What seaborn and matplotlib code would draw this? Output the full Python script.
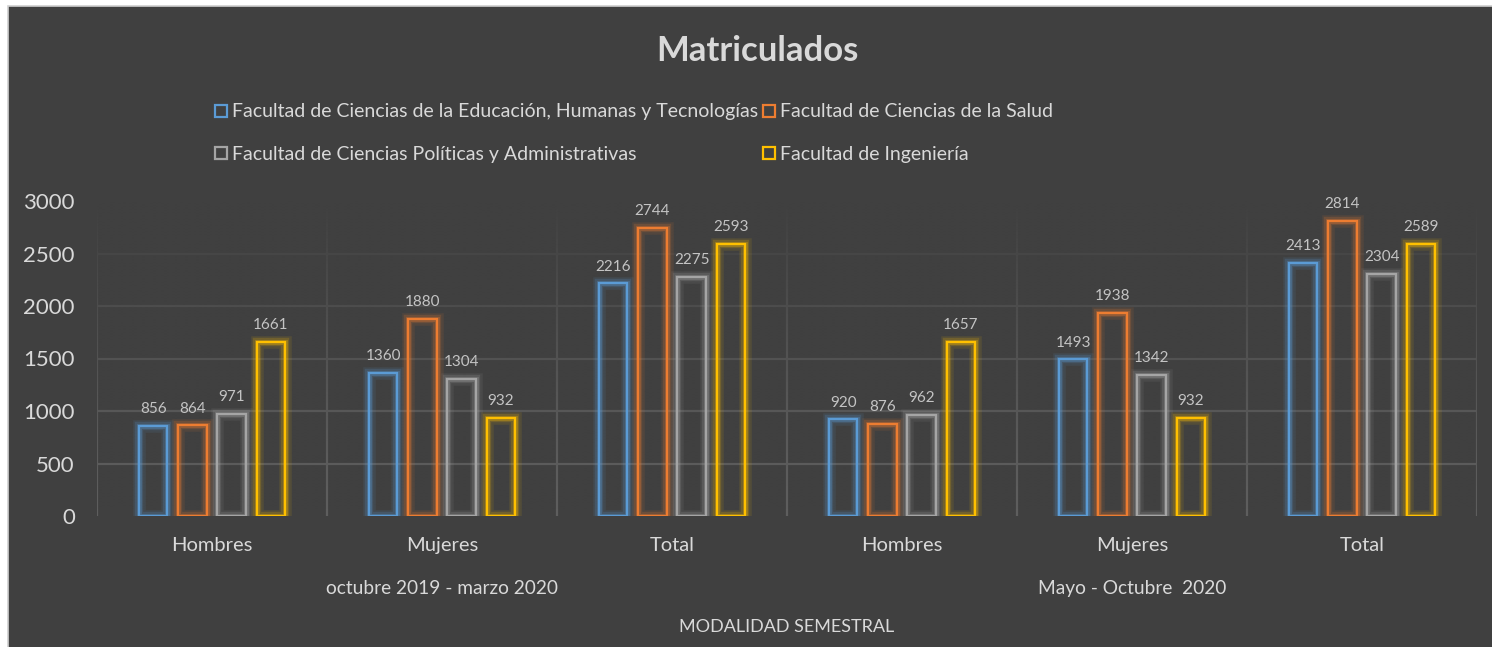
import numpy as np
import pandas as pd
import matplotlib
matplotlib.use("Agg")
import matplotlib.pyplot as plt
import matplotlib.patheffects as pe
from matplotlib.lines import Line2D
from matplotlib.patches import Rectangle
import seaborn as sns

# data
facultades = [
    "Facultad de Ciencias de la Educación, Humanas y Tecnologías",
    "Facultad de Ciencias de la Salud",
    "Facultad de Ciencias Políticas y Administrativas",
    "Facultad de Ingeniería",
]
categorias = ["Hombres", "Mujeres", "Total", "Hombres", "Mujeres", "Total"]
periodos = ["octubre 2019 - marzo 2020", "Mayo - Octubre  2020"]
educacion = [856, 1360, 2216, 920, 1493, 2413]
salud = [864, 1880, 2744, 876, 1938, 2814]
politicas = [971, 1304, 2275, 962, 1342, 2304]
ingenieria = [1661, 932, 2593, 1657, 932, 2589]
colores = ["#5b9bd5", "#ed7d31", "#a5a5a5", "#ffc000"]

series = [educacion, salud, politicas, ingenieria]
grupos = [f"g{i}" for i in range(len(categorias))]
rows = []
for fac, vals in zip(facultades, series):
    for g, v in zip(grupos, vals):
        rows.append({"grupo": g, "facultad": fac, "valor": v})
df = pd.DataFrame(rows)

bg = "#404040"
txt = "#d9d9d9"
sns.set_style("dark")
plt.rcParams["font.family"] = ["Lato", "DejaVu Sans"]

fig = plt.figure(figsize=(14.92, 6.47), dpi=100)
fig.patch.set_facecolor("white")
fig.add_artist(Rectangle((8 / 1492, -0.05), 1.1, 1.05 - 6 / 647, transform=fig.transFigure,
                         facecolor=bg, edgecolor="#d0d0d0", linewidth=1.2, zorder=-10))

ax = fig.add_axes([97 / 1492, 1 - 516 / 647, 1380 / 1492, 315 / 647])
ax.set_facecolor(bg)

sns.barplot(data=df, x="grupo", y="valor", hue="facultad", order=grupos,
            hue_order=facultades, palette=colores, fill=False, width=0.68, gap=0.28,
            linewidth=1.6, ax=ax, legend=False, zorder=3)

# glow around each bar
for cont, col in zip(ax.containers, colores):
    for bar in cont:
        bar.set_path_effects([
            pe.Stroke(linewidth=9, foreground=col, alpha=0.10),
            pe.Stroke(linewidth=6, foreground=col, alpha=0.18),
            pe.Stroke(linewidth=3.5, foreground=col, alpha=0.30),
            pe.Normal(),
        ])
    ax.bar_label(cont, padding=7, color="#c4c4c4", fontsize=11)

ax.set_ylim(0, 3000)
ax.set_xlim(-0.5, 5.5)
ax.set_yticks(np.arange(0, 3001, 500))
ax.set_yticklabels([str(v) for v in range(0, 3001, 500)], fontsize=16, color=txt)
ax.tick_params(axis="y", pad=16, length=0)
ax.tick_params(axis="x", length=0, pad=15)
ax.set_xticks(range(len(categorias)))
ax.set_xticklabels(categorias, fontsize=14.5, color=txt)
ax.set_xlabel("")
ax.set_ylabel("")
for s in ax.spines.values():
    s.set_visible(False)

# grid lines
grid_col = "#5e5e5e"
for yv in range(500, 3001, 500):
    ax.axhline(yv, color=grid_col, linewidth=1.6, zorder=0)
for xv in np.arange(-0.5, 6, 1):
    ax.axvline(xv, color=grid_col, linewidth=1.6, zorder=0)

# fade grid toward the bottom
fade = np.zeros((100, 2, 4))
fade[..., :3] = np.array([0x40, 0x40, 0x40]) / 255
fade[..., 3] = np.linspace(0, 1, 100)[:, None] ** 1.4
ax.imshow(fade, extent=(-0.5, 5.5, 3000, 0), aspect="auto", zorder=1, origin="upper",
          interpolation="bilinear")
ax.set_ylim(0, 3000)
ax.set_xlim(-0.5, 5.5)

# second and third level of the category axis
for i, p in enumerate(periodos):
    ax.text(1 + 3 * i, -0.23, p, transform=ax.get_xaxis_transform(), ha="center",
            va="center", fontsize=13.8, color=txt)
fig.text(787 / 1492, 1 - 627 / 647, "MODALIDAD SEMESTRAL", ha="center", va="center",
         fontsize=13, color=txt)

fig.text(757 / 1492, 1 - 51 / 647, "Matriculados", ha="center", va="center",
         fontsize=25, fontweight="bold", color=txt)

handles = [Line2D([], [], marker="s", linestyle="none", markersize=9,
                  markerfacecolor="none", markeredgecolor=c, markeredgewidth=1.6)
           for c in colores]
order = [0, 2, 1, 3]
fig.legend([handles[i] for i in order], [facultades[i] for i in order], ncol=2,
           loc="center", bbox_to_anchor=(634 / 1492, 1 - 133 / 647), frameon=False,
           fontsize=14, labelcolor=txt, handlelength=0.6, handletextpad=0.25,
           columnspacing=0.3, labelspacing=1.3, borderaxespad=0)

fig.savefig("out.png", dpi=100, facecolor=fig.get_facecolor())
